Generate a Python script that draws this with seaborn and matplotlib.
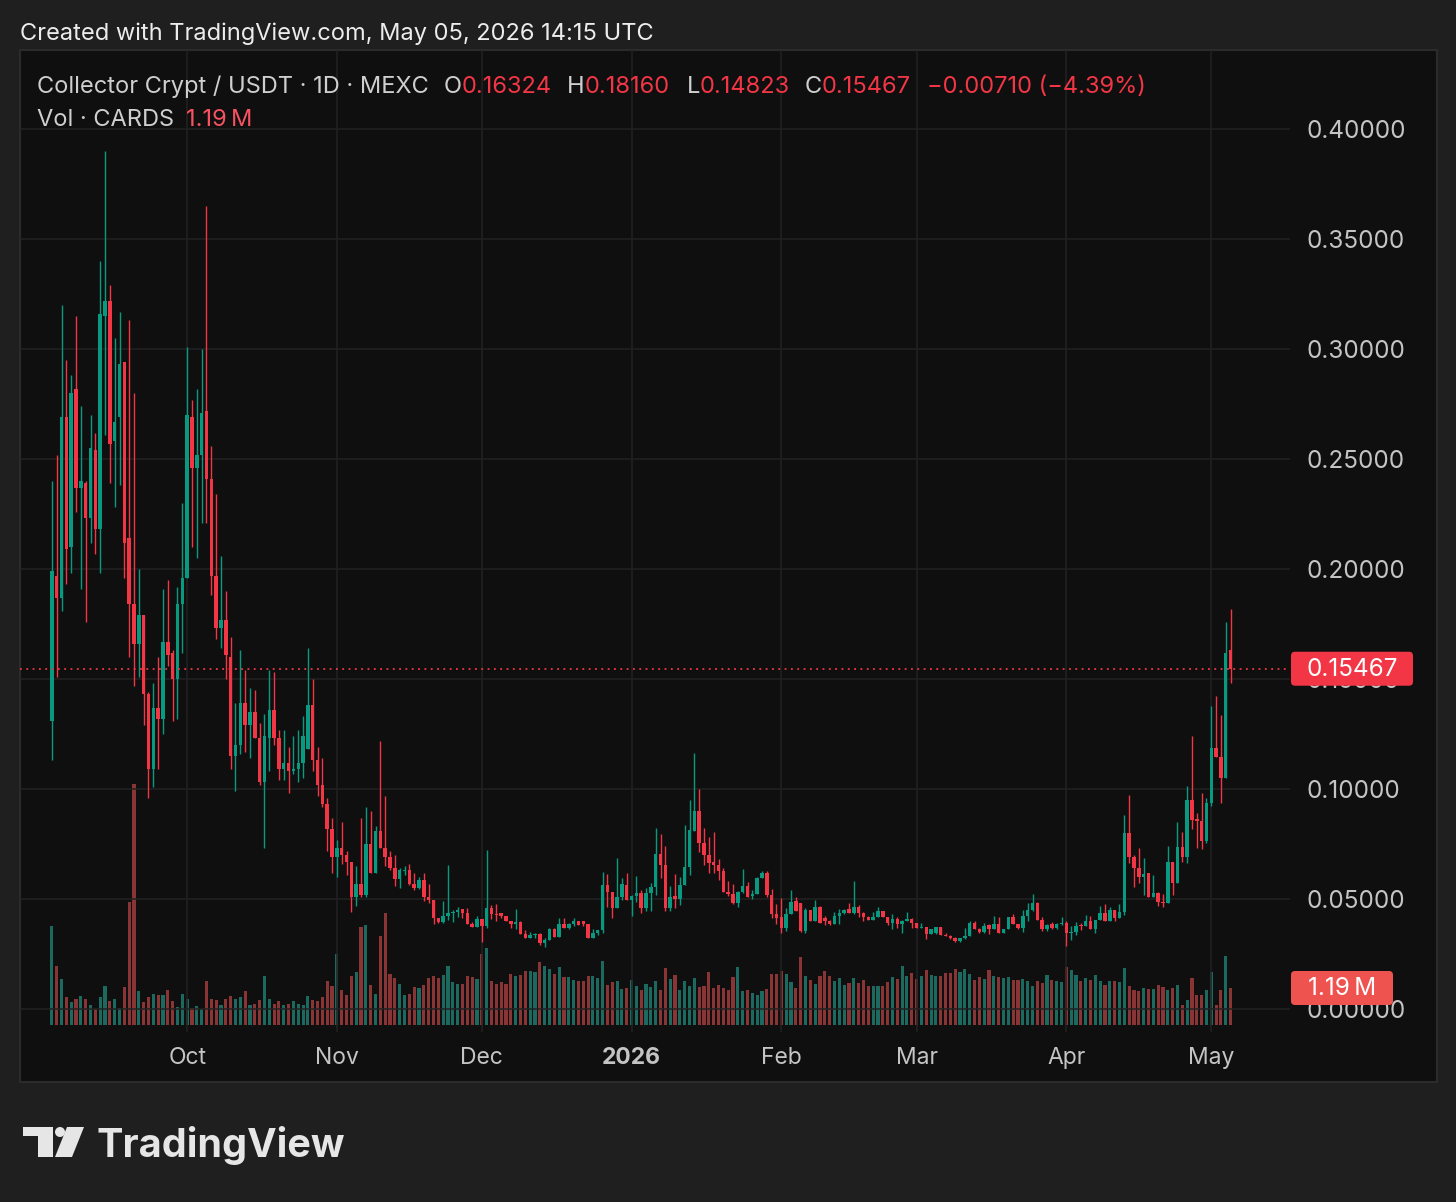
import numpy as np
import pandas as pd
import matplotlib
matplotlib.use("Agg")
import matplotlib.pyplot as plt
import matplotlib.dates as mdates
from matplotlib.patches import Rectangle, FancyBboxPatch, Polygon, Circle
import seaborn as sns

# daily candles CARDS/USDT (MEXC), 2025-09-03 .. 2026-05-05
open_prices = [
    0.131, 0.197, 0.187, 0.269, 0.210, 0.282, 0.237, 0.239, 0.223, 0.254,
    0.218, 0.315, 0.322, 0.258, 0.269, 0.294, 0.214, 0.184, 0.166, 0.179,
    0.143, 0.109, 0.137, 0.132, 0.167, 0.162, 0.150, 0.184, 0.196, 0.269,
    0.246, 0.252, 0.272, 0.241, 0.197, 0.173, 0.177, 0.160, 0.115, 0.120,
    0.139, 0.129, 0.135, 0.123, 0.103, 0.123, 0.136, 0.123, 0.109, 0.112,
    0.108, 0.109, 0.112, 0.118, 0.138, 0.113, 0.102, 0.093, 0.082, 0.069,
    0.073, 0.070, 0.067, 0.051, 0.057, 0.052, 0.075, 0.062, 0.081, 0.073,
    0.069, 0.064, 0.059, 0.0625, 0.063, 0.057, 0.055, 0.0586, 0.051, 0.0495,
    0.0415, 0.0394, 0.0423, 0.0438, 0.0443, 0.0453, 0.0435, 0.0386, 0.0374, 0.0408,
    0.0377, 0.0458, 0.0432, 0.0436, 0.0423, 0.0401, 0.0385, 0.0397, 0.034, 0.0324,
    0.0336, 0.034, 0.0299, 0.0314, 0.0362, 0.0329, 0.0386, 0.0368, 0.0386, 0.040,
    0.0398, 0.0385, 0.0324, 0.0347, 0.0357, 0.0564, 0.0533, 0.0458, 0.051, 0.0564,
    0.0495, 0.0514, 0.0529, 0.046, 0.0526, 0.0556, 0.0705, 0.0655, 0.0458, 0.0515,
    0.050, 0.0564, 0.0644, 0.0809, 0.090, 0.0753, 0.070, 0.067, 0.0655, 0.0629,
    0.0533, 0.0521, 0.048, 0.0533, 0.056, 0.0514, 0.0523, 0.0594, 0.062, 0.0518,
    0.0432, 0.0418, 0.037, 0.043, 0.049, 0.0482, 0.0356, 0.045, 0.0401, 0.0465,
    0.0415, 0.0401, 0.0385, 0.0423, 0.0435, 0.0455, 0.0438, 0.0462, 0.0435, 0.0417,
    0.0405, 0.042, 0.0447, 0.042, 0.039, 0.0408, 0.0386, 0.040, 0.0408, 0.039,
    0.0367, 0.0374, 0.0341, 0.0345, 0.0374, 0.0336, 0.0332, 0.0321, 0.0309, 0.0321,
    0.0333, 0.039, 0.0362, 0.0351, 0.0382, 0.0362, 0.0386, 0.0347, 0.0362, 0.042,
    0.0386, 0.0367, 0.0423, 0.045, 0.0483, 0.0405, 0.0362, 0.0385, 0.0367, 0.0385,
    0.0392, 0.0344, 0.0351, 0.0382, 0.0375, 0.0401, 0.0364, 0.0405, 0.0435, 0.0401,
    0.045, 0.0412, 0.044, 0.0799, 0.069, 0.064, 0.0599, 0.0617, 0.051, 0.0526,
    0.0488, 0.048, 0.067, 0.0571, 0.0735, 0.0692, 0.095, 0.0862, 0.0855, 0.0765,
    0.0938, 0.1188, 0.1147, 0.1049, 0.16324,
]
high_prices = [
    0.240, 0.252, 0.320, 0.295, 0.288, 0.315, 0.274, 0.240, 0.270, 0.262,
    0.340, 0.390, 0.329, 0.305, 0.317, 0.294, 0.313, 0.280, 0.200, 0.179,
    0.144, 0.148, 0.160, 0.191, 0.195, 0.163, 0.192, 0.230, 0.301, 0.277,
    0.282, 0.300, 0.365, 0.256, 0.234, 0.206, 0.190, 0.169, 0.139, 0.163,
    0.154, 0.146, 0.145, 0.130, 0.134, 0.154, 0.153, 0.127, 0.127, 0.119,
    0.124, 0.127, 0.133, 0.164, 0.150, 0.119, 0.114, 0.096, 0.087, 0.077,
    0.085, 0.072, 0.067, 0.065, 0.087, 0.092, 0.090, 0.083, 0.122, 0.097,
    0.072, 0.070, 0.064, 0.065, 0.066, 0.062, 0.060, 0.062, 0.057, 0.0495,
    0.0415, 0.049, 0.0655, 0.045, 0.0462, 0.0455, 0.0458, 0.0395, 0.0423, 0.0408,
    0.0723, 0.0473, 0.0477, 0.0436, 0.0423, 0.0401, 0.0455, 0.0402, 0.0359, 0.0351,
    0.0345, 0.0345, 0.0321, 0.0367, 0.0367, 0.0412, 0.0412, 0.039, 0.0412, 0.0402,
    0.0402, 0.0385, 0.0362, 0.0359, 0.0624, 0.0614, 0.0533, 0.0685, 0.0594, 0.0617,
    0.0518, 0.0605, 0.0541, 0.0548, 0.0571, 0.0821, 0.0795, 0.0741, 0.0559, 0.0612,
    0.0601, 0.0836, 0.095, 0.1162, 0.100, 0.0821, 0.0783, 0.0803, 0.068, 0.064,
    0.0582, 0.0568, 0.0538, 0.0636, 0.0576, 0.0541, 0.0601, 0.0627, 0.0627, 0.0545,
    0.0477, 0.0503, 0.0458, 0.0541, 0.0508, 0.0482, 0.0458, 0.045, 0.0495, 0.0468,
    0.0423, 0.0405, 0.0442, 0.0455, 0.0455, 0.0483, 0.0582, 0.0473, 0.0442, 0.0423,
    0.0442, 0.0462, 0.0447, 0.042, 0.043, 0.0417, 0.0405, 0.0442, 0.0412, 0.0392,
    0.0392, 0.0374, 0.0362, 0.0374, 0.0374, 0.0345, 0.0336, 0.0327, 0.0323, 0.0367,
    0.040, 0.0402, 0.0367, 0.039, 0.0385, 0.0423, 0.0417, 0.0365, 0.042, 0.0432,
    0.0386, 0.045, 0.048, 0.0521, 0.0488, 0.0417, 0.0385, 0.0397, 0.0392, 0.0417,
    0.0401, 0.0377, 0.0397, 0.0392, 0.0427, 0.0423, 0.0405, 0.0468, 0.0477, 0.0462,
    0.045, 0.0477, 0.0882, 0.0973, 0.070, 0.073, 0.0685, 0.0617, 0.0609, 0.0533,
    0.0521, 0.0741, 0.067, 0.0851, 0.0806, 0.1014, 0.1241, 0.089, 0.0983, 0.0958,
    0.1377, 0.1423, 0.1336, 0.176, 0.18160,
]
low_prices = [
    0.113, 0.151, 0.181, 0.193, 0.198, 0.226, 0.191, 0.176, 0.212, 0.207,
    0.198, 0.261, 0.239, 0.228, 0.238, 0.196, 0.160, 0.147, 0.151, 0.129,
    0.096, 0.101, 0.109, 0.125, 0.156, 0.131, 0.132, 0.162, 0.196, 0.210,
    0.205, 0.221, 0.221, 0.188, 0.168, 0.164, 0.150, 0.109, 0.099, 0.116,
    0.117, 0.114, 0.123, 0.102, 0.073, 0.108, 0.120, 0.104, 0.104, 0.098,
    0.107, 0.103, 0.105, 0.118, 0.108, 0.097, 0.092, 0.072, 0.062, 0.060,
    0.066, 0.061, 0.044, 0.047, 0.051, 0.051, 0.062, 0.062, 0.073, 0.065,
    0.063, 0.056, 0.055, 0.061, 0.0565, 0.054, 0.0545, 0.049, 0.048, 0.0385,
    0.039, 0.039, 0.0405, 0.0394, 0.042, 0.0412, 0.0386, 0.0374, 0.0374, 0.0303,
    0.0367, 0.0409, 0.0401, 0.0415, 0.0401, 0.037, 0.0362, 0.034, 0.0324, 0.0324,
    0.0324, 0.0291, 0.028, 0.0314, 0.0329, 0.0329, 0.0368, 0.0362, 0.0375, 0.0382,
    0.0378, 0.0324, 0.0324, 0.0335, 0.0347, 0.0465, 0.0415, 0.0458, 0.0495, 0.0495,
    0.0423, 0.0488, 0.0438, 0.0447, 0.0447, 0.0518, 0.0594, 0.0447, 0.0447, 0.0458,
    0.0473, 0.0564, 0.0609, 0.0809, 0.0715, 0.0655, 0.0617, 0.0617, 0.0586, 0.0533,
    0.0514, 0.0476, 0.0465, 0.0529, 0.051, 0.0499, 0.0523, 0.0594, 0.051, 0.0412,
    0.0386, 0.0345, 0.0355, 0.043, 0.0447, 0.0351, 0.0347, 0.0401, 0.0401, 0.0392,
    0.0383, 0.0383, 0.0385, 0.0385, 0.0432, 0.0435, 0.0432, 0.0417, 0.0401, 0.0405,
    0.0405, 0.042, 0.042, 0.0382, 0.0364, 0.0367, 0.0344, 0.040, 0.0367, 0.0367,
    0.0367, 0.0318, 0.0341, 0.0341, 0.0336, 0.0330, 0.0318, 0.0306, 0.0303, 0.0318,
    0.0333, 0.0362, 0.0347, 0.0345, 0.034, 0.0362, 0.0347, 0.0345, 0.0362, 0.0386,
    0.0365, 0.0351, 0.040, 0.0445, 0.0405, 0.0356, 0.0356, 0.0364, 0.0364, 0.0382,
    0.0286, 0.0314, 0.0336, 0.0359, 0.0375, 0.0364, 0.0347, 0.0405, 0.0401, 0.0401,
    0.0401, 0.0412, 0.0427, 0.0665, 0.0553, 0.0571, 0.0518, 0.051, 0.051, 0.0468,
    0.0465, 0.048, 0.0518, 0.0571, 0.067, 0.0662, 0.0817, 0.073, 0.0726, 0.0756,
    0.0923, 0.1147, 0.0938, 0.1049, 0.14823,
]
close_prices = [
    0.199, 0.187, 0.269, 0.209, 0.280, 0.237, 0.240, 0.223, 0.255, 0.218,
    0.316, 0.322, 0.257, 0.267, 0.293, 0.212, 0.184, 0.166, 0.179, 0.143,
    0.109, 0.137, 0.132, 0.167, 0.161, 0.150, 0.184, 0.196, 0.270, 0.246,
    0.252, 0.271, 0.241, 0.197, 0.173, 0.177, 0.161, 0.115, 0.120, 0.139,
    0.129, 0.135, 0.123, 0.103, 0.124, 0.136, 0.123, 0.109, 0.112, 0.108,
    0.109, 0.112, 0.124, 0.138, 0.113, 0.102, 0.093, 0.082, 0.069, 0.073,
    0.070, 0.067, 0.051, 0.057, 0.052, 0.075, 0.062, 0.081, 0.073, 0.069,
    0.064, 0.059, 0.063, 0.0632, 0.057, 0.055, 0.0586, 0.051, 0.0495, 0.0415,
    0.0394, 0.0423, 0.0438, 0.0443, 0.045, 0.0435, 0.0386, 0.0374, 0.0408, 0.0377,
    0.0458, 0.0432, 0.0427, 0.0423, 0.0401, 0.0385, 0.0397, 0.034, 0.0324, 0.0336,
    0.034, 0.0299, 0.0314, 0.0362, 0.0329, 0.0386, 0.0368, 0.0386, 0.040, 0.0382,
    0.0385, 0.0324, 0.0347, 0.0357, 0.0564, 0.0533, 0.0458, 0.051, 0.0567, 0.0495,
    0.0514, 0.0529, 0.046, 0.0526, 0.0556, 0.0705, 0.0655, 0.0458, 0.051, 0.050,
    0.0564, 0.0644, 0.0814, 0.090, 0.0753, 0.070, 0.0665, 0.0655, 0.0629, 0.0533,
    0.0521, 0.048, 0.0533, 0.056, 0.051, 0.0523, 0.0594, 0.062, 0.0518, 0.0432,
    0.0412, 0.037, 0.043, 0.0488, 0.0447, 0.0356, 0.045, 0.0401, 0.0465, 0.0392,
    0.0401, 0.0385, 0.0423, 0.0435, 0.045, 0.0438, 0.0462, 0.0435, 0.0417, 0.0405,
    0.042, 0.0447, 0.042, 0.039, 0.0408, 0.0386, 0.040, 0.0408, 0.039, 0.0367,
    0.0374, 0.0341, 0.0362, 0.0374, 0.0336, 0.0332, 0.0321, 0.0309, 0.0321, 0.0333,
    0.039, 0.0362, 0.0351, 0.0377, 0.0362, 0.0386, 0.0347, 0.0362, 0.042, 0.0386,
    0.0367, 0.0423, 0.045, 0.0483, 0.0405, 0.0362, 0.0382, 0.0367, 0.0385, 0.039,
    0.0344, 0.0351, 0.0377, 0.0375, 0.0401, 0.0364, 0.0405, 0.0435, 0.0401, 0.045,
    0.0412, 0.044, 0.0799, 0.069, 0.064, 0.0599, 0.0614, 0.051, 0.0526, 0.0488,
    0.048, 0.067, 0.0571, 0.0735, 0.0692, 0.095, 0.0859, 0.0855, 0.0765, 0.0938,
    0.1188, 0.1147, 0.1049, 0.16177, 0.15467,
]
# volume in millions of CARDS
volume_m = [
    3.19, 1.91, 1.48, 0.91, 0.74, 0.85, 0.94, 0.85, 0.63, 0.53,
    0.91, 1.25, 0.77, 0.82, 0.55, 1.22, 3.94, 7.74, 1.08, 0.74,
    0.91, 1.01, 0.96, 0.98, 1.11, 0.76, 0.59, 1.01, 0.82, 0.55,
    0.61, 0.50, 1.40, 0.82, 0.79, 0.65, 0.82, 0.93, 0.85, 0.91,
    1.08, 0.63, 0.66, 0.79, 1.59, 0.84, 0.66, 0.76, 0.63, 0.69,
    0.76, 0.66, 0.63, 0.93, 0.79, 0.76, 0.91, 1.43, 1.27, 2.29,
    1.14, 0.98, 1.57, 1.72, 3.16, 3.22, 1.28, 1.01, 2.87, 3.59,
    1.65, 1.50, 1.33, 0.95, 1.01, 1.22, 1.19, 1.28, 1.50, 1.59,
    1.50, 1.62, 1.89, 1.37, 1.33, 1.33, 1.56, 1.54, 1.48, 2.29,
    2.46, 1.43, 1.33, 1.37, 1.31, 1.65, 1.57, 1.62, 1.74, 1.74,
    1.72, 2.01, 1.91, 1.80, 1.65, 1.86, 1.54, 1.54, 1.46, 1.43,
    1.43, 1.57, 1.59, 1.50, 2.06, 1.28, 1.37, 1.43, 1.16, 1.19,
    1.46, 1.25, 1.14, 1.33, 1.22, 1.40, 1.11, 1.82, 1.48, 1.62,
    1.14, 1.43, 1.25, 1.50, 1.22, 1.25, 1.72, 1.19, 1.30, 1.19,
    1.14, 1.54, 1.88, 1.08, 1.14, 1.03, 0.98, 1.08, 1.16, 1.63,
    1.65, 1.75, 1.65, 1.38, 1.19, 2.20, 1.56, 1.45, 1.33, 1.56,
    1.75, 1.56, 1.43, 1.50, 1.30, 1.34, 1.50, 1.34, 1.45, 1.27,
    1.24, 1.27, 1.24, 1.38, 1.54, 1.48, 1.91, 1.59, 1.66, 1.48,
    1.56, 1.77, 1.62, 1.59, 1.59, 1.66, 1.66, 1.80, 1.72, 1.80,
    1.65, 1.45, 1.54, 1.48, 1.77, 1.56, 1.54, 1.50, 1.54, 1.45,
    1.45, 1.48, 1.43, 1.27, 1.40, 1.34, 1.62, 1.45, 1.43, 1.38,
    1.88, 1.77, 1.62, 1.43, 1.50, 1.45, 1.62, 1.40, 1.30, 1.40,
    1.43, 1.38, 1.82, 1.24, 1.13, 1.08, 1.18, 1.16, 1.16, 1.29,
    1.22, 1.11, 1.18, 1.29, 0.63, 0.81, 1.50, 0.95, 0.95, 1.13,
    1.70, 0.65, 1.13, 2.23, 1.19,
]

W, H = 1456, 1202
UP, DOWN = "#089981", "#f23645"
VOL_UP, VOL_DOWN = "#1c6a5f", "#8a3535"
PANEL = "#0f0f0f"
OUTER = "#1f1f1f"
GRID = "#222222"
TXT = "#c4c4c4"

sns.set_theme(style="dark")
plt.rcParams["font.family"] = ["Inter", "DejaVu Sans"]

df = pd.DataFrame({
    "date": pd.date_range("2025-09-03", periods=len(close_prices), freq="D"),
    "open": open_prices, "high": high_prices,
    "low": low_prices, "close": close_prices, "volume": volume_m,
})
df["x"] = mdates.date2num(df["date"])
df["dir"] = np.where(df["close"] >= df["open"], "up", "down")
candle_col = np.where(df["dir"] == "up", UP, DOWN)

fig = plt.figure(figsize=(W / 100, H / 100), dpi=100, facecolor=OUTER)

# background layer in pixel coordinates
bg = fig.add_axes([0, 0, 1, 1], zorder=0)
bg.set_xlim(0, W)
bg.set_ylim(H, 0)
bg.axis("off")
bg.add_patch(Rectangle((20, 50), 1417, 1032, facecolor=PANEL,
                       edgecolor="#2b2b2b", linewidth=1.5))

# price axes + volume twin
ax = fig.add_axes([20 / W, 1 - 1032 / H, 1270 / W, 982 / H], zorder=2)
ax2 = ax.twinx()
ax2.set_zorder(1)
ax.patch.set_visible(False)
ax2.patch.set_visible(False)

sns.barplot(data=df, x="x", y="volume", hue="dir", native_scale=True,
            palette={"up": VOL_UP, "down": VOL_DOWN}, dodge=False,
            width=0.65, errorbar=None, saturation=1, linewidth=0,
            legend=False, ax=ax2)
ax2.set_ylim(-0.225, 31.35)
ax2.set_yticks([])
ax2.set_ylabel("")
ax2.set_xlabel("")

ax.vlines(df["x"], df["low"], df["high"], colors=candle_col, linewidth=1.0)
body = np.maximum((df["close"] - df["open"]).abs(), 0.0005)
ax.bar(df["x"], body, bottom=np.minimum(df["open"], df["close"]),
       width=0.72, color=candle_col, linewidth=0)

last = df["close"].iloc[-1]
ax.axhline(last, color=DOWN, linewidth=1.3, linestyle=(0, (1, 2.5)))

x0 = df["x"].iloc[0]
ax.set_xlim(x0 - 6.6, x0 + 256.3)
ax.set_ylim(-0.010455, 0.43591)

months = pd.date_range("2025-10-01", "2026-05-01", freq="MS")
month_labels = [str(d.year) if d.month == 1 else d.strftime("%b") for d in months]
ax.set_xticks(mdates.date2num(months))
ax.set_xticklabels(month_labels)
for lab in ax.get_xticklabels():
    if lab.get_text() == "2026":
        lab.set_fontweight("bold")
        lab.set_color("#d6d6d6")

price_ticks = np.arange(0, 0.401, 0.05)
ax.yaxis.tick_right()
ax.set_yticks(price_ticks)
ax.set_yticklabels([f"{t:.5f}" for t in price_ticks])
ax.tick_params(axis="y", length=0, pad=12, labelsize=17.5, labelcolor=TXT)
ax.tick_params(axis="x", length=0, pad=11, labelsize=16.5, labelcolor=TXT)
ax.grid(True, color=GRID, linewidth=1.1)
ax2.grid(False)
for a in (ax, ax2):
    for s in a.spines.values():
        s.set_visible(False)
ax.set_xlabel("")
ax.set_ylabel("")

# foreground layer: header, legend, badges, logo
fg = fig.add_axes([0, 0, 1, 1], zorder=5)
fg.set_xlim(0, W)
fg.set_ylim(H, 0)
fg.axis("off")


def to_fg_y(axis, value):
    yd = axis.transData.transform((0, value))[1]
    return fg.transData.inverted().transform((0, yd))[1]


yb = to_fg_y(ax, last)
fg.add_patch(FancyBboxPatch((1291, yb - 17), 122, 34,
                            boxstyle="round,pad=0,rounding_size=4",
                            facecolor=DOWN, edgecolor="none"))
fg.text(1352, yb + 1, f"{last:.5f}", color="white", fontsize=17.5,
        ha="center", va="center")

vlast = df["volume"].iloc[-1]
yv = to_fg_y(ax2, vlast)
fg.add_patch(FancyBboxPatch((1291, yv - 17), 102, 34,
                            boxstyle="round,pad=0,rounding_size=4",
                            facecolor="#ef5350", edgecolor="none"))
fg.text(1342, yv + 1, f"{vlast:.2f}\u2009M", color="white", fontsize=17.5,
        ha="center", va="center")

fg.text(20, 40, "Created with TradingView.com, May 05, 2026 14:15 UTC",
        color="#ececec", fontsize=17, va="baseline")

o, h, l, c = (df[k].iloc[-1] for k in ("open", "high", "low", "close"))
chg = c - df["close"].iloc[-2]
pct = chg / df["close"].iloc[-2] * 100
fs = 17
fg.text(37, 93, "Collector Crypt / USDT \u00b7 1D \u00b7 MEXC", color="#cfcfcf",
        fontsize=fs, va="baseline")
for lx, name, vx, val in [(444, "O", 462, o), (567, "H", 585, h),
                          (687, "L", 700, l), (805, "C", 822, c)]:
    fg.text(lx, 93, name, color="#cfcfcf", fontsize=fs, va="baseline")
    fg.text(vx, 93, f"{val:.5f}", color=DOWN, fontsize=fs, va="baseline")
fg.text(927, 93, f"\u2212{abs(chg):.5f} (\u2212{abs(pct):.2f}%)", color=DOWN,
        fontsize=fs, va="baseline")
fg.text(37, 126, "Vol \u00b7 CARDS", color="#cfcfcf", fontsize=fs, va="baseline")
fg.text(186, 126, f"{vlast:.2f}\u2009M", color="#f7525f", fontsize=fs,
        va="baseline")

# TradingView logo
LOGO = "#e6e6e6"
fg.add_patch(Polygon([(23, 1127), (53, 1127), (53, 1157), (38, 1157),
                      (38, 1136), (23, 1136)], closed=True,
                     facecolor=LOGO, edgecolor="none"))
fg.add_patch(Circle((60, 1132), 5, facecolor=LOGO, edgecolor="none"))
fg.add_patch(Polygon([(67, 1127), (84, 1127), (72, 1157), (55, 1157)],
                     closed=True, facecolor=LOGO, edgecolor="none"))
fg.text(97, 1157, "TradingView", color=LOGO, fontsize=28.5, fontweight="bold",
        va="baseline")

fig.savefig("out.png", dpi=100, facecolor=OUTER)
